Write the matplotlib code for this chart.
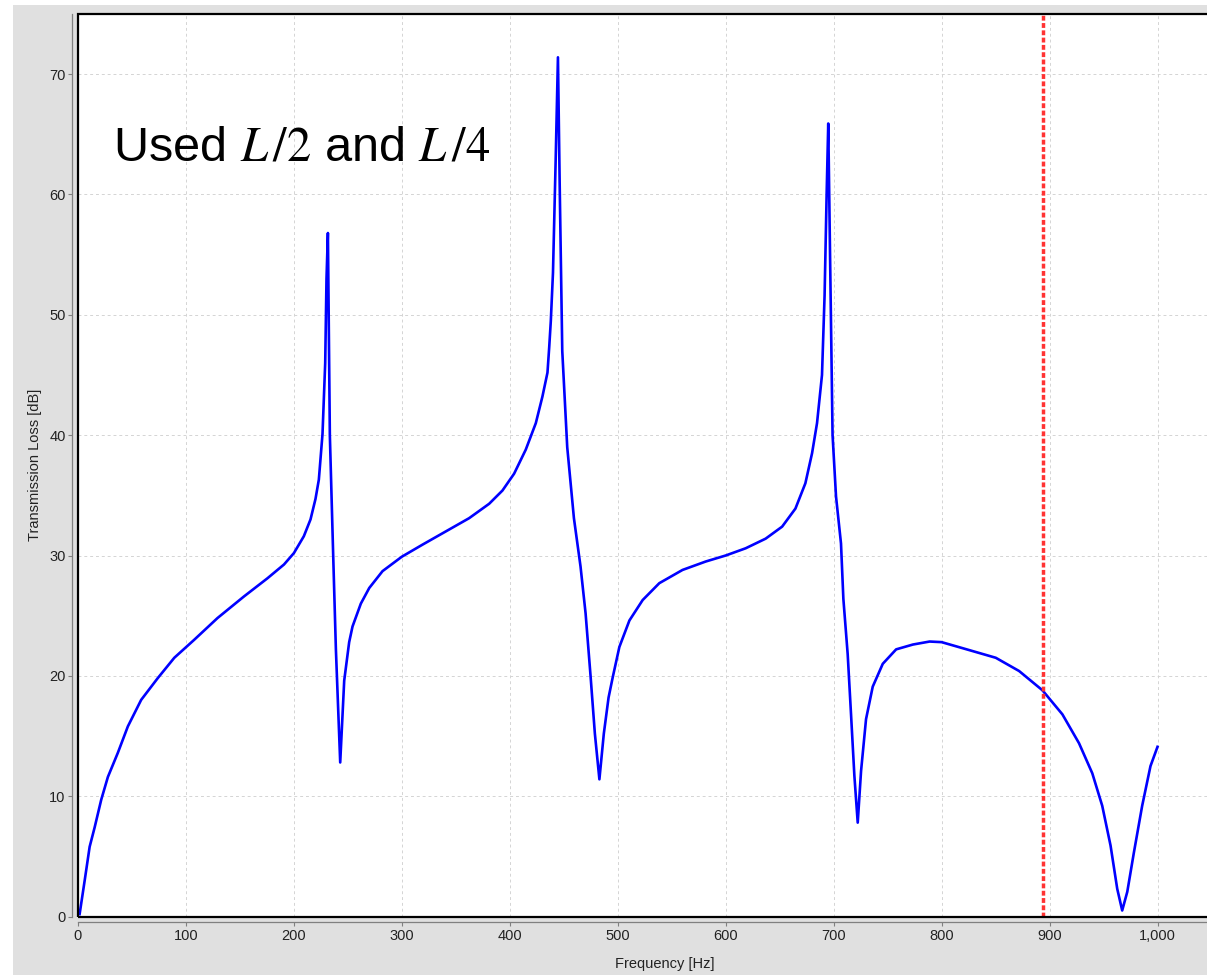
import matplotlib
matplotlib.use("Agg")
import matplotlib.pyplot as plt
from matplotlib.patches import Rectangle
from matplotlib.ticker import FuncFormatter, MultipleLocator

plt.rcParams['font.family'] = ['Liberation Sans', 'DejaVu Sans']
plt.rcParams['mathtext.fontset'] = 'stix'

# ---- data ----
freq_hz = [1.5, 6.2, 10.8, 15.4, 21.5, 27.7, 36.9, 46.2, 58.5, 73.8, 89.2, 107.7, 129.2, 153.8,
           175.4, 190.8, 200, 209.2, 215.4, 220, 223.1, 226.5, 229, 230.2, 231.5,
           233.3, 236.4, 238.9, 242.9,
           246.6, 251.2, 254.3, 262, 269.8, 282.1, 300, 319.1, 340.7, 362.3, 380.9, 393.2, 404,
           414.8, 424.1, 430.2, 434.9, 436.5, 438, 440, 442.5, 444.6,
           446.2, 448.6, 453.2, 459.4, 465.5, 470.2, 474.8, 478.8, 483,
           487.1, 491.5, 495.4, 501.5, 510.8, 523.1, 538.5, 560, 581.5, 600, 618.5, 637, 652.3,
           664.6, 673.8, 680, 684.6, 689.2, 691.6, 693.5, 695,
           696.6, 699, 702.2, 706.8, 709, 713, 716.1, 719.2, 722.3,
           725.4, 730, 736.2, 745.5, 757.9, 773.4, 788.9, 800, 819.4, 850.2, 871.8, 893.4, 911.9,
           927.3, 939.6, 948.8, 956.5, 962.7, 967.3,
           972, 978.1, 985.8, 993.5, 1000]
tl_db = [0.2, 3.0, 5.8, 7.4, 9.7, 11.6, 13.6, 15.8, 18.0, 19.8, 21.5, 23.0, 24.8, 26.6,
         28.1, 29.25, 30.2, 31.6, 33.0, 34.7, 36.3, 40.1, 46.0, 53.0, 56.8,
         40.0, 30.0, 22.2, 12.8,
         19.6, 22.8, 24.1, 26.0, 27.3, 28.7, 29.9, 30.9, 32.0, 33.1, 34.3, 35.4, 36.8,
         38.8, 41.0, 43.2, 45.2, 47.3, 49.5, 53.5, 62.9, 71.4,
         60.9, 47.0, 39.0, 33.1, 29.1, 25.2, 20.0, 15.2, 11.4,
         15.2, 18.2, 19.9, 22.4, 24.6, 26.3, 27.7, 28.8, 29.5, 30.0, 30.6, 31.4, 32.4,
         33.9, 36.0, 38.5, 41.0, 45.0, 51.6, 60.0, 65.9,
         55.4, 40.0, 34.9, 31.0, 26.4, 21.8, 16.8, 11.7, 7.8,
         12.1, 16.4, 19.1, 21.0, 22.2, 22.6, 22.85, 22.8, 22.3, 21.5, 20.4, 18.8, 16.8,
         14.4, 11.9, 9.2, 5.9, 2.3, 0.5,
         2.05, 5.3, 9.2, 12.5, 14.1]
marker_freq = [893.5]
annotation = r"Used $L\,/2$ and $L\,/4$"
x_label = "Frequency [Hz]"
y_label = "Transmission Loss [dB]"

W, H = 1207, 975
fig = plt.figure(figsize=(W / 100, H / 100), dpi=100)
fig.patch.set_facecolor('white')
fig.add_artist(Rectangle((13 / W, 0), 1 - 13 / W, (H - 5) / H, transform=fig.transFigure,
                         facecolor='#e0e0e0', edgecolor='none', zorder=-10))

left, top, bottom = 78, 14, 916.5
right = 1252
ax = fig.add_axes([left / W, (H - bottom) / H, (right - left) / W, (bottom - top) / H])
ax.set_facecolor('white')

ax.plot(freq_hz, tl_db, color='#0000ff', lw=1.9, zorder=3, solid_joinstyle='round')
for f in marker_freq:
    ax.axvline(f, color='#ff3333', lw=2.5, linestyle=(0, (1.4, 0.7)), zorder=4)

xmax = (right - left) / 1.0795
ax.set_xlim(0, xmax)
ax.set_ylim(0, 75)
ax.xaxis.set_major_locator(MultipleLocator(100))
ax.yaxis.set_major_locator(MultipleLocator(10))
ax.xaxis.set_major_formatter(FuncFormatter(lambda v, p: f"{int(round(v)):,}"))
ax.yaxis.set_major_formatter(FuncFormatter(lambda v, p: f"{int(round(v))}"))

ax.grid(True, color='#d4d4d4', lw=0.7, linestyle=(0, (3, 3)))
ax.set_axisbelow(True)

for s in ['top', 'right']:
    ax.spines[s].set_visible(False)
for s in ['left', 'bottom']:
    ax.spines[s].set_position(('outward', 4))
    ax.spines[s].set_color('#808080')
    ax.spines[s].set_linewidth(0.9)

# black plot outline
ax.add_patch(Rectangle((0, 0), 1, 1, transform=ax.transAxes, fill=False,
                       edgecolor='#000000', lw=1.6, clip_on=False, zorder=5))

ax.tick_params(axis='both', direction='out', length=3, width=0.8, color='#808080',
               labelsize=10.5, labelcolor='#222222', pad=2)
ax.set_xticks(range(0, 1001, 100))

ax.set_xlabel(x_label, fontsize=10.5, color='#222222', labelpad=10)
ax.set_ylabel(y_label, fontsize=10.5, color='#222222', labelpad=5)

ax.text(32.4, 62.8, annotation, fontsize=35, color='black', ha='left', va='baseline', zorder=6)

fig.savefig('out.png', dpi=100)
